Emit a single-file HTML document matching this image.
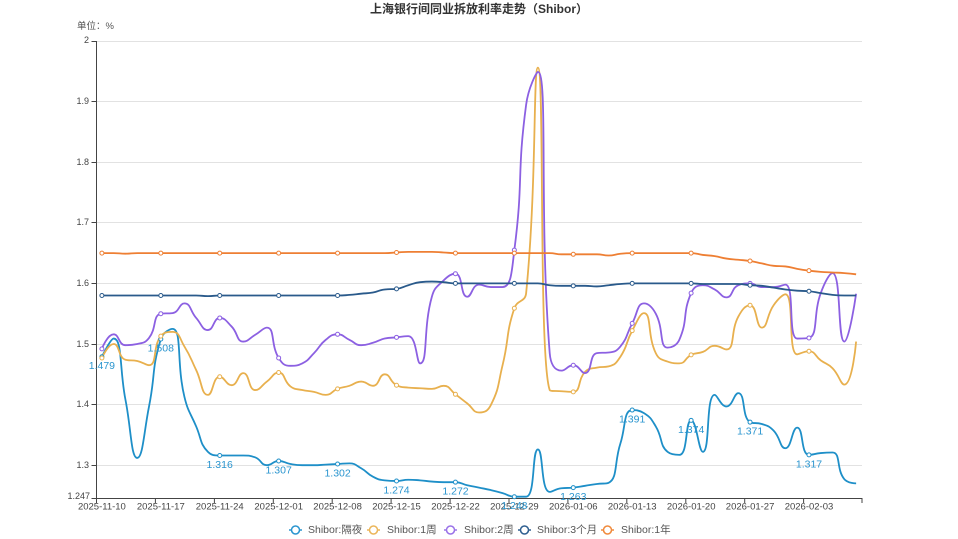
<!DOCTYPE html>
<html>
<head>
<meta charset="utf-8">
<style>
html,body{margin:0;padding:0;background:#fff;}
svg{display:block;}
text{font-family:"Liberation Sans","Noto Sans CJK SC",sans-serif;}
</style>
</head>
<body>
<svg id="c" width="958" height="539" viewBox="0 0 958 539" xmlns="http://www.w3.org/2000/svg">
<rect width="958" height="539" fill="#fff"/>
<text x="479" y="13" text-anchor="middle" font-size="12" font-weight="bold" fill="#333">上海银行间同业拆放利率走势（Shibor）</text>
<text x="77" y="29" font-size="9.5" fill="#555">单位：%</text>

<g stroke="#e2e2e2" stroke-width="1" fill="none">
<line x1="96" y1="41.5" x2="862" y2="41.5"/>
<line x1="96" y1="101.5" x2="862" y2="101.5"/>
<line x1="96" y1="162.5" x2="862" y2="162.5"/>
<line x1="96" y1="222.5" x2="862" y2="222.5"/>
<line x1="96" y1="283.5" x2="862" y2="283.5"/>
<line x1="96" y1="344.5" x2="862" y2="344.5"/>
<line x1="96" y1="404.5" x2="862" y2="404.5"/>
<line x1="96" y1="465.5" x2="862" y2="465.5"/>
</g>

<g stroke="#444" stroke-width="1" fill="none">
<line x1="96.5" y1="41" x2="96.5" y2="498.5"/>
<line x1="96" y1="498.5" x2="862.5" y2="498.5"/>
<line x1="91.5" y1="41.5" x2="96.5" y2="41.5"/>
<line x1="91.5" y1="101.5" x2="96.5" y2="101.5"/>
<line x1="91.5" y1="162.5" x2="96.5" y2="162.5"/>
<line x1="91.5" y1="222.5" x2="96.5" y2="222.5"/>
<line x1="91.5" y1="283.5" x2="96.5" y2="283.5"/>
<line x1="91.5" y1="344.5" x2="96.5" y2="344.5"/>
<line x1="91.5" y1="404.5" x2="96.5" y2="404.5"/>
<line x1="91.5" y1="465.5" x2="96.5" y2="465.5"/>
<line x1="91.5" y1="498.5" x2="96.5" y2="498.5"/>
<line x1="96.5" y1="498" x2="96.5" y2="503"/>
<line x1="155.4" y1="498" x2="155.4" y2="503"/>
<line x1="214.4" y1="498" x2="214.4" y2="503"/>
<line x1="273.3" y1="498" x2="273.3" y2="503"/>
<line x1="332.2" y1="498" x2="332.2" y2="503"/>
<line x1="391.1" y1="498" x2="391.1" y2="503"/>
<line x1="450.1" y1="498" x2="450.1" y2="503"/>
<line x1="509" y1="498" x2="509" y2="503"/>
<line x1="567.9" y1="498" x2="567.9" y2="503"/>
<line x1="626.8" y1="498" x2="626.8" y2="503"/>
<line x1="685.8" y1="498" x2="685.8" y2="503"/>
<line x1="744.7" y1="498" x2="744.7" y2="503"/>
<line x1="803.6" y1="498" x2="803.6" y2="503"/>
<line x1="862" y1="498" x2="862" y2="503"/>
</g>

<g font-size="9" fill="#444" text-anchor="end" dominant-baseline="central">
<text x="89" y="40">2</text>
<text x="89" y="101">1.9</text>
<text x="89" y="162">1.8</text>
<text x="89" y="222">1.7</text>
<text x="89" y="283">1.6</text>
<text x="89" y="344">1.5</text>
<text x="89" y="404">1.4</text>
<text x="89" y="465">1.3</text>
<text x="90" y="496">1.247</text>
</g>

<g font-size="9.5" fill="#444" text-anchor="middle" dominant-baseline="central">
<text x="101.9" y="507">2025-11-10</text>
<text x="160.8" y="507">2025-11-17</text>
<text x="219.7" y="507">2025-11-24</text>
<text x="278.7" y="507">2025-12-01</text>
<text x="337.6" y="507">2025-12-08</text>
<text x="396.5" y="507">2025-12-15</text>
<text x="455.5" y="507">2025-12-22</text>
<text x="514.4" y="507">2025-12-29</text>
<text x="573.3" y="507">2026-01-06</text>
<text x="632.2" y="507">2026-01-13</text>
<text x="691.2" y="507">2026-01-20</text>
<text x="750.1" y="507">2026-01-27</text>
<text x="809.0" y="507">2026-02-03</text>
</g>

<g id="lines"></g>

<g font-size="10.5" fill="#2a95cf" text-anchor="middle" dominant-baseline="central">
<text x="101.9" y="366.2">1.479</text>
<text x="160.8" y="348.7">1.508</text>
<text x="219.7" y="465">1.316</text>
<text x="278.7" y="470.5">1.307</text>
<text x="337.6" y="473.5">1.302</text>
<text x="396.5" y="490.5">1.274</text>
<text x="455.5" y="491.7">1.272</text>
<text x="514.4" y="506.2">1.248</text>
<text x="573.3" y="497.1">1.263</text>
<text x="632.2" y="419.6">1.391</text>
<text x="691.2" y="429.9">1.374</text>
<text x="750.1" y="431.7">1.371</text>
<text x="809.0" y="464.4">1.317</text>
</g>

<g font-size="10.5" fill="#555" dominant-baseline="central">
<line x1="289" y1="530" x2="302" y2="530" stroke="#2a95cf" stroke-width="1.5"/>
<circle cx="295.5" cy="530" r="4" fill="#fff" stroke="#2a95cf" stroke-width="1.5"/>
<text x="308" y="530">Shibor:隔夜</text>
<line x1="367" y1="530" x2="380" y2="530" stroke="#ebb65a" stroke-width="1.5"/>
<circle cx="373.5" cy="530" r="4" fill="#fff" stroke="#ebb65a" stroke-width="1.5"/>
<text x="387" y="530">Shibor:1周</text>
<line x1="444" y1="530" x2="457" y2="530" stroke="#9a72e8" stroke-width="1.5"/>
<circle cx="450.5" cy="530" r="4" fill="#fff" stroke="#9a72e8" stroke-width="1.5"/>
<text x="464" y="530">Shibor:2周</text>
<line x1="518" y1="530" x2="531" y2="530" stroke="#2f5f90" stroke-width="1.5"/>
<circle cx="524.5" cy="530" r="4" fill="#fff" stroke="#2f5f90" stroke-width="1.5"/>
<text x="537" y="530">Shibor:3个月</text>
<line x1="601" y1="530" x2="614" y2="530" stroke="#f08a3c" stroke-width="1.5"/>
<circle cx="607.5" cy="530" r="4" fill="#fff" stroke="#f08a3c" stroke-width="1.5"/>
<text x="621" y="530">Shibor:1年</text>
</g>
</svg>

<script>
(function(){
var X0=96, CW=766/65;
function px(i){return X0+(i+0.5)*CW;}
function py(v){return 41+(2-v)*606;}
function smoothPath(vals){
  var pts=vals.map(function(v,i){return [px(i),py(v)];});
  var s=0.5;
  var d="M"+pts[0][0].toFixed(2)+","+pts[0][1].toFixed(2);
  var cpx0=pts[0][0], cpy0=pts[0][1], prevX=pts[0][0], prevY=pts[0][1];
  for(var k=1;k<pts.length;k++){
    var x=pts[k][0], y=pts[k][1], cpx1, cpy1, nx0, ny0;
    if(k===pts.length-1){cpx1=x;cpy1=y;nx0=x;ny0=y;}
    else{
      var nextX=pts[k+1][0], nextY=pts[k+1][1];
      var vx=nextX-prevX, vy=nextY-prevY;
      var l0=Math.hypot(x-prevX,y-prevY), l1=Math.hypot(nextX-x,nextY-y);
      var r=l1/(l0+l1);
      nx0=x+vx*s*r; ny0=y+vy*s*r;
      nx0=Math.min(nx0,Math.max(nextX,x)); ny0=Math.min(ny0,Math.max(nextY,y));
      nx0=Math.max(nx0,Math.min(nextX,x)); ny0=Math.max(ny0,Math.min(nextY,y));
      vx=nx0-x; vy=ny0-y;
      cpx1=x-vx*l0/l1; cpy1=y-vy*l0/l1;
      cpx1=Math.min(cpx1,Math.max(prevX,x)); cpy1=Math.min(cpy1,Math.max(prevY,y));
      cpx1=Math.max(cpx1,Math.min(prevX,x)); cpy1=Math.max(cpy1,Math.min(prevY,y));
      vx=x-cpx1; vy=y-cpy1;
      nx0=x+vx*l1/l0; ny0=y+vy*l1/l0;
    }
    d+=" C"+cpx0.toFixed(2)+","+cpy0.toFixed(2)+" "+cpx1.toFixed(2)+","+cpy1.toFixed(2)+" "+x.toFixed(2)+","+y.toFixed(2);
    cpx0=nx0; cpy0=ny0; prevX=x; prevY=y;
  }
  return d;
}
var series=[
 {c:"#1e8fc8",d:[1.479,1.509,1.408,1.312,1.397,1.508,1.525,1.413,1.364,1.322,
1.316,1.316,1.316,1.313,1.300,1.307,1.302,1.300,1.300,1.301,
1.302,1.303,1.295,1.281,1.275,1.274,1.276,1.275,1.273,1.272,
1.272,1.267,1.263,1.259,1.254,1.248,1.248,1.326,1.256,1.262,
1.263,1.266,1.269,1.271,1.336,1.391,1.386,1.364,1.322,1.317,
1.374,1.322,1.416,1.397,1.419,1.371,1.368,1.357,1.328,1.362,
1.317,1.320,1.321,1.277,1.270]},
 {c:"#e8b04e",d:[1.477,1.500,1.474,1.472,1.465,1.513,1.520,1.496,1.457,1.416,
1.446,1.432,1.452,1.424,1.438,1.453,1.430,1.424,1.421,1.416,
1.426,1.431,1.438,1.431,1.450,1.432,1.428,1.427,1.426,1.431,
1.417,1.402,1.387,1.399,1.465,1.559,1.584,1.956,1.424,1.422,
1.421,1.454,1.461,1.463,1.479,1.522,1.551,1.485,1.471,1.468,
1.482,1.487,1.497,1.491,1.545,1.564,1.527,1.564,1.582,1.483,
1.488,1.473,1.460,1.433,1.504]},
 {c:"#8c60e2",d:[1.492,1.516,1.498,1.500,1.510,1.550,1.551,1.567,1.543,1.523,
1.543,1.529,1.504,1.515,1.527,1.477,1.464,1.468,1.485,1.507,
1.516,1.507,1.498,1.502,1.509,1.511,1.513,1.468,1.578,1.605,
1.616,1.578,1.598,1.594,1.594,1.655,1.895,1.949,1.485,1.456,
1.465,1.452,1.485,1.486,1.496,1.534,1.567,1.550,1.494,1.507,
1.584,1.597,1.590,1.577,1.597,1.600,1.594,1.594,1.598,1.509,
1.510,1.584,1.617,1.504,1.583]},
 {c:"#2a5a8b",d:[1.580,1.580,1.580,1.580,1.580,1.580,1.580,1.580,1.580,1.579,
1.580,1.580,1.580,1.580,1.580,1.580,1.580,1.580,1.580,1.580,
1.580,1.581,1.583,1.585,1.590,1.591,1.597,1.602,1.603,1.602,
1.600,1.600,1.600,1.600,1.600,1.600,1.600,1.600,1.597,1.596,
1.596,1.596,1.595,1.597,1.599,1.600,1.600,1.600,1.600,1.600,
1.600,1.599,1.599,1.599,1.599,1.597,1.596,1.593,1.590,1.588,
1.587,1.584,1.581,1.580,1.580]},
 {c:"#ee7f33",d:[1.650,1.650,1.649,1.650,1.650,1.650,1.650,1.650,1.650,1.650,
1.650,1.650,1.650,1.650,1.650,1.650,1.650,1.650,1.650,1.650,
1.650,1.650,1.650,1.650,1.650,1.651,1.652,1.652,1.652,1.651,
1.650,1.650,1.650,1.650,1.650,1.650,1.650,1.650,1.650,1.648,
1.648,1.648,1.648,1.646,1.649,1.650,1.650,1.650,1.650,1.650,
1.650,1.647,1.645,1.641,1.639,1.637,1.633,1.629,1.628,1.624,
1.621,1.619,1.618,1.617,1.615]}
];
var NS="http://www.w3.org/2000/svg";
var g=document.getElementById("lines");
series.forEach(function(s){
  var p=document.createElementNS(NS,"path");
  p.setAttribute("d",smoothPath(s.d));
  p.setAttribute("fill","none");
  p.setAttribute("stroke",s.c);
  p.setAttribute("stroke-width","1.8");
  p.setAttribute("stroke-linejoin","round");
  g.appendChild(p);
});
series.forEach(function(s){
  for(var i=0;i<s.d.length;i+=5){
    var c=document.createElementNS(NS,"circle");
    c.setAttribute("cx",px(i).toFixed(2));
    c.setAttribute("cy",py(s.d[i]).toFixed(2));
    c.setAttribute("r","2");
    c.setAttribute("fill","#fff");
    c.setAttribute("stroke",s.c);
    c.setAttribute("stroke-width","1");
    g.appendChild(c);
  }
});
})();
</script>
</body>
</html>
